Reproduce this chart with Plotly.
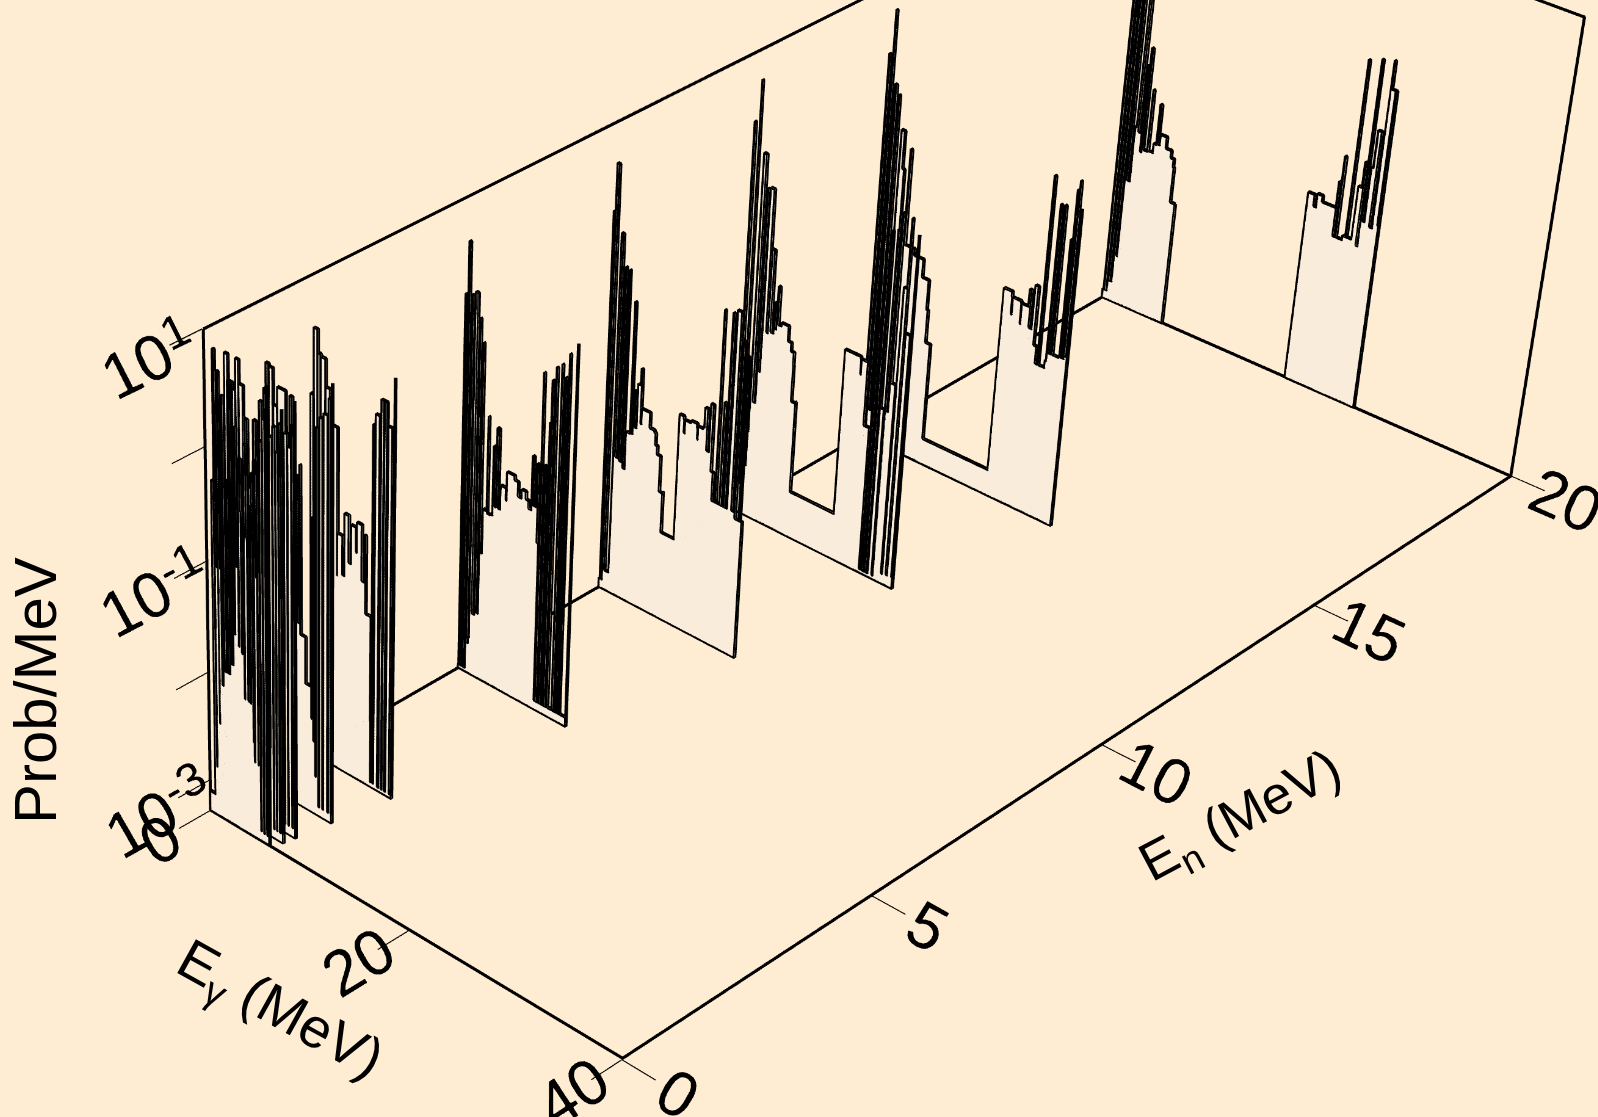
import plotly.graph_objects as go

Z_MIN = -3.29
BASE = -3.285
en_vals = [0.03, 0.2, 0.4, 1.0, 2.0, 5.0, 8.0, 11.0, 14.0, 19.98, 19.98]
e0=[0,.55,.6,.82,.85,1.0,1.05,1.18,1.2,1.35,1.4,1.48,1.6,1.75,2.0,2.1,2.3,2.45,2.62,2.7,2.8,2.85,3.0,3.05,3.2,3.25,3.45,3.5,3.6,3.75,3.8,4.0,4.1,4.35,4.4,4.55,4.6,4.7,4.75,4.9,4.95,5.07,5.1,5.3,5.35,5.6,5.65,5.9,6.0,6.05,6.1]
z0=[-3.1,-3.1,-.26,-2.83,.87,-1.0,.4,-2.41,.7,-1.0,.2,-2.04,.51,-1.9,-.2,-1.9,.67,-1.8,-.7,-1.5,-1.51,.3,-.9,-.3,-1.6,.05,-.4,-1.65,-.8,-2.05,.2,-.6,-2.05,-2.06,-.3,-.5,-2.4,-2.58,.1,-.6,-.9,-2.59,-.1,-3.19,.3,-3.2,.5,-3.2,.6,-3.2,.8]
e1=[0,.5,.55,.8,.85,1.08,1.1,1.42,1.44,1.84,1.86,2.16,2.18,2.48,2.5,2.9,3.0,3.2,3.25,3.5,3.6,3.8,3.85,4.0,4.1,4.3,4.35,4.6,4.7,5.0,5.05,5.15,5.2,5.3,5.4,5.7,5.75,6.0,6.05,6.3,6.35,6.55,6.6]
z1=[-3.0,-2.9,.1,-2.6,.2,-2.3,.81,-2.1,.59,-1.9,.54,-1.7,.81,-1.6,.61,-1.5,-.2,-.5,-1.5,-1.5,-.1,-.6,-1.6,-1.7,.2,-.4,-2.0,-2.05,-.3,-2.45,.1,-.5,-2.45,-2.45,.3,-3.2,.4,-3.2,.2,-3.2,.45,-3.2,.58]
e2=[0,.4,.45,.8,.85,1.2,1.3,1.6,1.9,2.2,2.24,2.7,2.8,3.05,3.1,3.3,3.4,3.65,3.7,3.9,4.0,4.2,4.25,4.4,4.5,4.75,4.8,5.0,5.05,5.4,5.5,5.75,5.8,6.1,6.15,6.5,6.55,6.75,6.8]
z2=[-2.9,-2.8,-.2,-2.5,.1,-2.2,0,-2.0,.24,-1.9,-.33,-1.7,.27,-.8,-1.6,-1.6,.46,-.5,-1.5,-1.5,0,-.6,-1.6,-1.6,.1,-.7,-2.0,-2.0,-.4,-2.45,0,-3.2,.3,-3.2,.2,-3.2,.4,-3.2,.61]
e3=[0,.6,.65,.85,.87,1.15,1.18,1.55,1.6,1.98,2.0,2.8,2.85,3.15,3.2,3.45,3.5,3.9,4.16,4.2,4.7,5.3,5.35,5.5,5.6,5.7,5.75,6.0,6.1,6.4,6.5,6.9,7.0,7.25,7.3]
z3=[-3.0,-2.7,.3,-2.5,.53,-2.3,.51,-2.1,.2,-1.9,.37,-1.8,-.1,-1.7,.35,-1.7,-.31,-1.6,-.2,-1.7,-2.12,-2.41,-.6,-2.61,0,-2.93,.2,-3.2,.3,-3.2,.35,-3.2,.5,-3.2,.64]
e4=[0,.02,.3,.35,.7,.72,1.0,1.03,1.48,1.51,1.94,1.96,2.68,2.7,3.2,3.4,3.82,4.06,4.55,4.63,5.11,5.35,5.5,5.95,6.05,6.1,6.16,6.3,6.4,6.8,6.94,7.2,7.26,7.5,7.63,8.0,8.2]
z4=[-3.1,-.01,-2.9,.57,-2.5,.37,-2.3,.35,-2.2,.11,-1.92,-.19,-1.5,-1.12,-1.47,-.91,-1.33,-.98,-1.2,-.93,-1.43,-1.01,-1.71,-1.71,-2.67,-3.24,0,-3.24,.1,-3.25,.25,-3.25,.25,-3.25,.05,-3.25,.49]
e5=[0,.05,.2,.34,.45,.7,.8,.96,1.06,1.3,1.56,1.6,1.92,1.95,2.19,2.57,2.6,2.89,3.14,3.3,3.46,3.66,3.9,4.42,4.49,5.24,5.6,5.96,6.37,6.65,6.95,7.1,7.34,7.38,7.5,7.55,7.7,7.72,7.8,7.85,8.1,8.2,8.5,8.55,8.63,8.7,8.99,9.05,9.51,9.55,9.87,9.92,10.2,10.25,10.9]
z5=[-3.25,.16,-3.25,.63,-3.25,.18,-3.0,-2.94,.22,-2.7,.01,-2.67,-.19,-2.09,-1.68,-.82,-1.7,-1.69,-1.06,-1.6,-.88,-1.6,-1.38,-1.49,-1.23,-1.27,-1.4,-1.32,-1.39,-1.46,-.97,-1.41,-1.41,-1.02,-1.29,-1.73,-1.73,-3.2,-.19,-3.2,-1.0,-3.2,-.6,-3.2,-.22,-3.2,-.09,-3.2,-.04,-3.2,-.14,-3.2,.08,-3.2,.2]
e6=[0,.1,.2,.29,.5,.95,.96,1.15,1.5,1.55,1.9,1.92,2.14,2.53,2.61,2.78,2.95,3.16,3.42,3.52,3.6,4.16,4.43,4.9,5.05,5.25,5.6,5.95,5.96,7.25,7.28,7.7,7.75,7.85,8.4,9.0,9.05,9.1,9.56,9.7,9.98,10.24,10.5,10.7,10.72,11.06,11.1,11.5,11.55,11.87,11.95,12.25,12.66,12.86,13.0,13.4,13.5,13.7]
z6=[-3.2,.22,-3.2,.65,-3.1,-2.82,.06,-1.98,-.22,-2.0,-.23,-2.05,-1.7,-.49,-1.69,-1.29,-1.62,-1.21,-1.06,-1.56,-1.42,-1.42,-1.56,-1.58,-1.69,-1.77,-2.1,-2.09,-2.47,-2.47,-1.3,-1.33,-1.45,-1.33,-1.31,-1.35,-1.45,-1.33,-1.31,-1.13,-1.51,-1.07,-1.68,-1.68,-1.94,-.19,-1.94,-1.0,-1.94,-.18,-1.94,-.14,-1.94,-.38,-2.0,-.5,-2.0,-1.99]
e7=[0,.02,.1,.53,.55,1.04,1.1,1.38,1.63,1.72,1.9,1.93,2.3,2.46,2.7,3.0,3.1,3.26,3.4,3.73,4.45,4.8,5.1,5.12,5.5,5.55,9.55,9.97,10.7,11.5,11.55,11.6,12.1,12.2,12.7,12.75,12.9,13.0,13.3,13.35,13.6,13.65,14.0,14.1,14.15,14.4,14.5,14.9,15.0,15.3,15.35,15.5,15.9,16.0]
z7=[-3.1,.37,-3.0,.76,-2.8,-2.47,.13,-2.17,-.17,-1.86,-1.62,-.15,-1.47,-.69,-1.45,-1.16,-1.4,-1.0,-1.35,-1.32,-1.46,-1.54,-1.66,-2.0,-1.99,-2.85,-2.85,-1.29,-1.29,-1.31,-1.45,-1.31,-1.31,-1.9,-1.9,-3.25,-.9,-3.25,-.5,-3.25,-.05,-1.67,-3.25,-.02,-1.67,.14,-1.4,-3.19,-.5,.13,-3.18,-.9,-3.18,.01]
e8=[0,.02,.1,.4,.45,.7,.78,.95,1.26,1.3,1.65,1.74,2.06,2.25,2.65,2.75,2.85,3.85,4.77,5.44,5.57,6.03,6.05,12.3,12.6,13.4,13.45,13.5,14.3,14.35,14.4,15.0,15.01,15.2,15.5,15.8,16.1,16.3,16.4,17.0,17.1,17.2,17.4,17.5,17.6,18.2,18.3,18.4,18.5,18.55,18.7,18.75,19.0]
z8=[-3.15,.36,-3.15,.77,-3.0,-2.87,.11,-3.13,.03,-2.05,-1.56,-.27,-.62,-1.68,-1.29,-.41,-1.3,-1.36,-1.53,-1.81,-2.12,-2.12,-3.04,-3.04,-1.29,-1.34,-1.5,-1.34,-1.36,-1.55,-1.36,-1.36,-1.2,-1.55,-1.14,-1.69,-1.85,-.1,-1.85,-1.78,-.33,-1.7,-1.7,-.32,-1.7,-1.69,-.6,-1.69,-.14,-1.69,-.05,-1.66,-.29]
e9=[0,.1,.2,.4,.5,.8,1.0,1.1,1.26,1.56,1.7,1.9,2.1,2.25,2.37,2.5,2.94,3.0,3.5,3.76,3.9,4.1,4.7,5.27,5.58,5.67,6.15]
z9=[-3.2,.4,-3.2,.5,-3.09,.3,-2.82,.6,-2.05,-1.51,.4,-1.55,-.9,-1.73,-.72,-1.7,-1.1,-1.69,-1.6,-1.21,-1.59,-1.49,-1.6,-1.67,-1.75,-2.09,-2.09]
e10=[18.5,19.1,19.12,19.36,19.8,19.85,20.68,21.17,21.2,21.4,21.5,22.1,22.37,22.45,22.9,22.95,23.27,23.4,23.55,23.64,23.9,24.04,24.38,24.65,24.72,25.1,25.18,25.2]
z10=[-1.46,-1.46,-1.57,-1.44,-1.44,-1.5,-1.5,-1.25,-1.77,-1.0,-1.77,-1.73,-.06,-1.73,-1.72,-1.22,-.98,-1.77,-.01,-1.52,-1.0,-.65,-1.55,.02,-.24,-1.51,-.24,-1.5]
curves_e=[e0,e1,e2,e3,e4,e5,e6,e7,e8,e9,e10]
curves_z=[z0,z1,z2,z3,z4,z5,z6,z7,z8,z9,z10]
BG='#FEEDD2'; FILL='#F9ECDA'
x_ticks=[0,20,40]; y_ticks=[0,5,10,15,20]
z_ticks=[1e-3,1e-2,1e-1,1,10]
z_text=['10<sup>-3</sup>','','10<sup>-1</sup>','','10<sup>1</sup>']

W,H,left,top=3019,4096,-1411,-1378
CURVE_W,FRAME_W=6,5
fig=go.Figure()
fb=10**BASE; ft=10**0.996
frame=dict(mode='lines',line=dict(color='black',width=FRAME_W),hoverinfo='skip')
fig.add_trace(go.Scatter3d(x=[.03,.03,39.97,39.97,39.97,.03,.03],y=[.02,.02,.02,19.98,19.98,19.98,.02],z=[ft,fb,fb,fb,ft,ft,ft],**frame))
fig.add_trace(go.Scatter3d(x=[.03,.03,39.97],y=[.02,19.98,19.98],z=[fb,fb,fb],**frame))
for en,e,z in zip(en_vals,curves_e,curves_z):
    xs=[e[0]];zs=[BASE]
    for i in range(len(e)):
        if i: xs.append(e[i]);zs.append(z[i-1])
        xs.append(e[i]);zs.append(z[i])
    xs+=[e[-1],e[0]];zs+=[BASE,BASE]
    vx=[];vz=[];I=[];J=[];K=[]
    for a in range(len(xs)-3):
        if xs[a+1]>xs[a]:
            n=len(vx)
            vx+=[xs[a],xs[a+1],xs[a+1],xs[a]];vz+=[fb,fb,10**zs[a+1],10**zs[a]]
            I+=[n,n];J+=[n+1,n+2];K+=[n+2,n+3]
    fig.add_trace(go.Mesh3d(x=vx,y=[en]*len(vx),z=vz,i=I,j=J,k=K,color=FILL,flatshading=True,opacity=1,
        lighting=dict(ambient=1,diffuse=0,specular=0,roughness=1,fresnel=0),hoverinfo='skip'))
    fig.add_trace(go.Scatter3d(x=xs,y=[en]*len(xs),z=[10**v for v in zs],mode='lines',line=dict(color='black',width=CURVE_W),hoverinfo='skip'))
ax=dict(showgrid=False,showbackground=False,showspikes=False,zeroline=False,showline=False,
        ticks='outside',ticklen=28,tickcolor='black',tickwidth=2,tickfont=dict(family='Liberation Sans',size=25,color='black'),title=dict(text=''))
def note(text,px,py,angle,size):
    return dict(text=text,x=(px-left)/W,y=1-(py-top)/H,xref='paper',yref='paper',xanchor='center',yanchor='middle',showarrow=False,
                textangle=angle,font=dict(family='Liberation Sans',size=size,color='black'))
fig.update_layout(width=W,height=H,margin=dict(l=0,r=0,t=0,b=0),showlegend=False,paper_bgcolor=BG,
 annotations=[note('E<sub>γ</sub> (MeV)',279,1011,29,56),note('E<sub>n</sub> (MeV)',1241,818,-28,54),note('Prob/MeV',35,691,-90,60)],
 scene=dict(domain=dict(x=[0,1],y=[0,1]),
  xaxis=dict(ax,range=[0,40],tickvals=x_ticks),
  yaxis=dict(ax,range=[0,20],tickvals=y_ticks),
  zaxis=dict(ax,type='log',range=[Z_MIN,1],tickvals=z_ticks,ticktext=z_text),
  aspectmode='manual',aspectratio=dict(x=1,y=2.596,z=1.007),
  camera=dict(eye=dict(x=4.749,y=-6.254,z=4.751),center=dict(x=-.845,y=-1.247,z=-.387),up=dict(x=-.415,y=.393,z=.247))))
post=f"""var g=document.getElementById('{{plot_id}}');g.style.position='absolute';g.style.left='{left}px';g.style.top='{top}px';
document.body.style.margin='0';document.body.style.overflow='hidden';document.body.style.background='{BG}';document.documentElement.style.overflow='hidden';"""
fig.write_html('out.html',post_script=post)
